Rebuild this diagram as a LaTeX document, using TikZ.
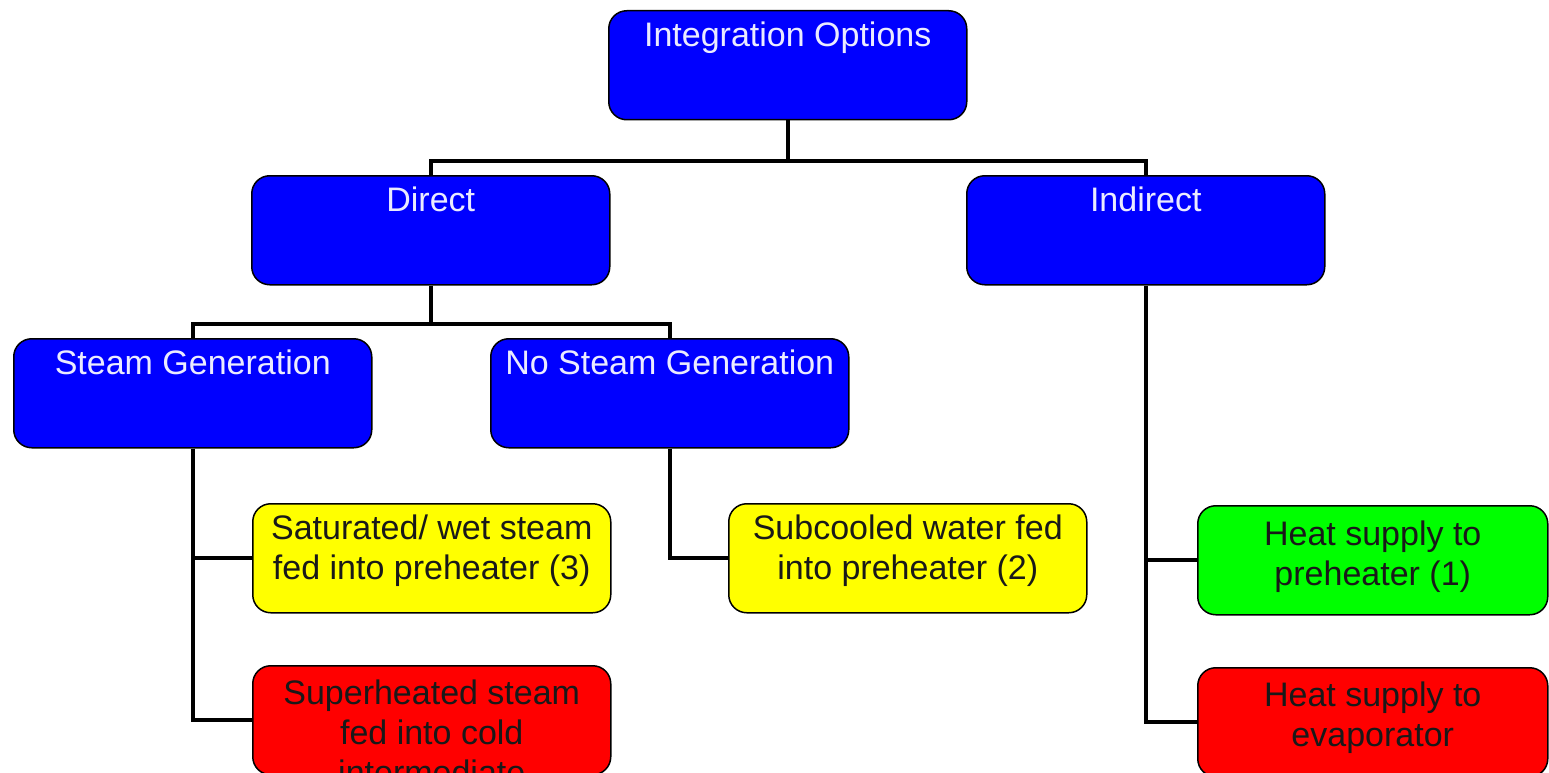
\documentclass[tikz,border=0pt]{standalone}
\usepackage{fontspec}
\setmainfont{Liberation Sans}
\begin{document}
\begin{tikzpicture}[x=1pt,y=-1pt,
  box/.style={draw=black, line width=1.5pt, rounded corners=18pt, minimum width=358pt, minimum height=109pt, inner sep=0pt, anchor=north west},
  bluebox/.style={box, fill={rgb,255:red,0;green,0;blue,255}},
  yelbox/.style={box, fill={rgb,255:red,255;green,255;blue,0}},
  grnbox/.style={box, fill={rgb,255:red,0;green,255;blue,0}},
  redbox/.style={box, fill={rgb,255:red,255;green,0;blue,0}},
  txt/.style={anchor=north, inner sep=0pt, align=center, font=\fontsize{34}{40}\selectfont},
  wtxt/.style={txt, text={rgb,255:red,235;green,235;blue,255}},
  dtxt/.style={txt, text={rgb,255:red,25;green,25;blue,25}},
  conn/.style={draw=black, line width=4pt}]
\useasboundingbox (0,0) rectangle (1549,773);
\begin{scope}
\clip (0,0) rectangle (1549,773);
% boxes
\node[bluebox] (io) at (608,10) {};
\node[bluebox] (direct) at (251,175) {};
\node[bluebox] (indirect) at (966,175) {};
\node[bluebox] (steam) at (13,338) {};
\node[bluebox] (nosteam) at (490,338) {};
\node[yelbox] (sat) at (252,503) {};
\node[yelbox] (sub) at (728,503) {};
\node[grnbox, minimum width=350pt] (pre) at (1197,505) {};
\node[redbox] (sup) at (252,665) {};
\node[redbox, minimum width=350pt] (evap) at (1197,667) {};
% texts
\node[wtxt] (iot) at ([yshift=-12pt]io.north) {Integration Options};
\node[wtxt] (directt) at ([yshift=-12pt]direct.north) {Direct};
\node[wtxt] (indirectt) at ([yshift=-12pt]indirect.north) {Indirect};
\node[wtxt] (steamt) at ([yshift=-12pt]steam.north) {Steam Generation};
\node[wtxt] (nosteamt) at ([yshift=-12pt]nosteam.north) {No Steam Generation};
\node[dtxt] (satt) at ([yshift=-12pt]sat.north) {Saturated/ wet steam\\fed into preheater (3)};
\node[dtxt] (subt) at ([yshift=-12pt]sub.north) {Subcooled water fed\\into preheater (2)};
\node[dtxt] (pret) at ([yshift=-16pt]pre.north) {Heat supply to\\preheater (1)};
\node[dtxt] (supt) at ([yshift=-15pt]sup.north) {Superheated steam\\fed into cold\\intermediate};
\node[dtxt] (evapt) at ([yshift=-15pt]evap.north) {Heat supply to\\evaporator};
\end{scope}
% connectors
\draw[conn] (io.south) -- ++(0,40) -| (direct.north);
\draw[conn] (io.south) -- ++(0,40) -| (indirect.north);
\draw[conn] (direct.south) -- ++(0,38) -| (steam.north);
\draw[conn] (direct.south) -- ++(0,38) -| (nosteam.north);
\draw[conn] (steam.south) |- (sat.west);
\draw[conn] (steam.south) |- (sup.west);
\draw[conn] (nosteam.south) |- (sub.west);
\draw[conn] (indirect.south) |- (pre.west);
\draw[conn] (indirect.south) |- (evap.west);
\end{tikzpicture}
\end{document}
